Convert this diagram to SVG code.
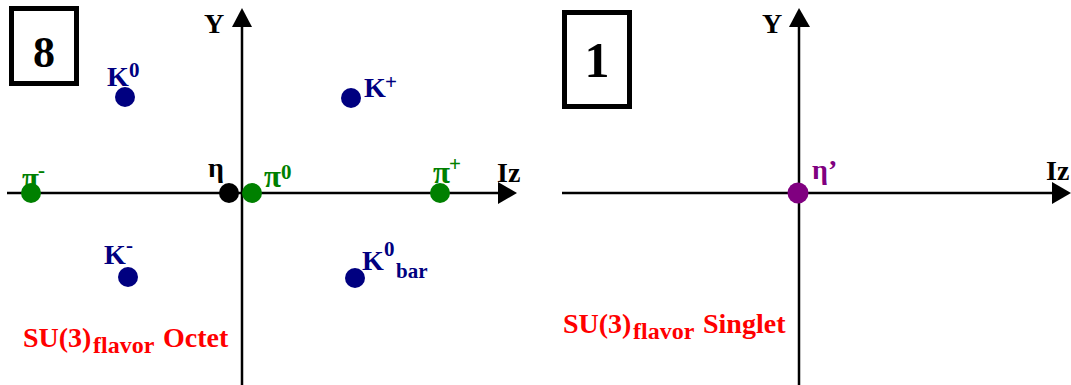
<svg xmlns="http://www.w3.org/2000/svg" width="1071" height="385" viewBox="0 0 1071 385">
  <style>
    text { font-family: "Liberation Serif", "Times New Roman", serif; font-weight: bold; }
    .axis { stroke: #000; stroke-width: 2.5; fill: none; }
    .head { fill: #000; }
    .box { fill: #fff; stroke: #000; stroke-width: 5; }
    .lbl { font-size: 28px; }
    .greek { font-size: 31px; }
    .sup { font-size: 21px; }
    .title { font-size: 28px; fill: #ff0000; }
    .sub { font-size: 24px; fill: #ff0000; }
    .kaon { fill: #000080; }
    .pion { fill: #008000; }
    .eta { fill: #000; }
    .etap { fill: #800080; }
  </style>

  <!-- axes with arrowheads -->
  <g id="connectors">
    <line class="axis" x1="242" y1="24" x2="242" y2="385"/>
    <polygon class="head" points="242,8 232,27 252,27"/>
    <line class="axis" x1="7" y1="193" x2="500" y2="193"/>
    <polygon class="head" points="517,193 498,182 498,204"/>

    <line class="axis" x1="799" y1="24" x2="799" y2="385"/>
    <polygon class="head" points="799,8 789,27 810,27"/>
    <line class="axis" x1="562" y1="193" x2="1054" y2="193"/>
    <polygon class="head" points="1071,193 1052,182 1052,204"/>
  </g>

  <!-- axis labels -->
  <g id="axis-labels">
    <text x="204" y="33" font-size="28">Y</text>
    <text x="497" y="182" font-size="28">Iz</text>
    <text x="762" y="33" font-size="28">Y</text>
    <text x="1046" y="180" font-size="28">Iz</text>
  </g>

  <!-- multiplet boxes -->
  <g id="box-octet">
    <rect class="box" x="11.5" y="8.5" width="65" height="75"/>
    <text x="44" y="67" font-size="44" text-anchor="middle">8</text>
  </g>
  <g id="box-singlet">
    <rect class="box" x="564.5" y="12.5" width="65" height="94"/>
    <text x="597" y="77" font-size="50" text-anchor="middle">1</text>
  </g>

  <!-- octet -->
  <g id="K0">
    <circle class="kaon" cx="125" cy="97" r="10"/>
    <text class="lbl kaon" x="107" y="86">K</text>
    <text class="sup kaon" x="129" y="77">0</text>
  </g>
  <g id="Kplus">
    <circle class="kaon" cx="351" cy="98" r="10"/>
    <text class="lbl kaon" x="364" y="97">K</text>
    <text class="sup kaon" x="385" y="89">+</text>
  </g>
  <g id="Kminus">
    <circle class="kaon" cx="128" cy="277" r="10"/>
    <text class="lbl kaon" x="104" y="264">K</text>
    <text class="sup kaon" x="126" y="252">-</text>
  </g>
  <g id="K0bar">
    <circle class="kaon" cx="355" cy="278" r="10"/>
    <text class="lbl kaon" x="362" y="270">K</text>
    <text class="sup kaon" x="384" y="256">0</text>
    <text class="sup kaon" x="396" y="278">bar</text>
  </g>
  <g id="piminus">
    <circle class="pion" cx="31" cy="193" r="10"/>
    <text class="greek pion" x="22" y="189">π</text>
    <text class="sup pion" x="38" y="177">-</text>
  </g>
  <g id="eta">
    <circle class="eta" cx="229" cy="193" r="10"/>
    <text class="lbl eta" x="208" y="177">η</text>
  </g>
  <g id="pi0">
    <circle class="pion" cx="252" cy="193" r="10"/>
    <text class="greek pion" x="264" y="187">π</text>
    <text class="sup pion" x="281" y="179">0</text>
  </g>
  <g id="piplus">
    <circle class="pion" cx="440" cy="193" r="10"/>
    <text class="greek pion" x="433" y="183">π</text>
    <text class="sup pion" x="449" y="171">+</text>
  </g>
  <g id="octet-title">
    <text class="title" x="23" y="347">SU(3)</text>
    <text class="sub" x="93" y="353">flavor</text>
    <text class="title" x="163" y="347">Octet</text>
  </g>

  <!-- singlet -->
  <g id="etaprime">
    <circle class="etap" cx="798" cy="193" r="10.5"/>
    <text class="lbl etap" x="812" y="179">η’</text>
  </g>
  <g id="singlet-title">
    <text class="title" x="563" y="333">SU(3)</text>
    <text class="sub" x="633" y="339">flavor</text>
    <text class="title" x="703" y="333">Singlet</text>
  </g>
</svg>
